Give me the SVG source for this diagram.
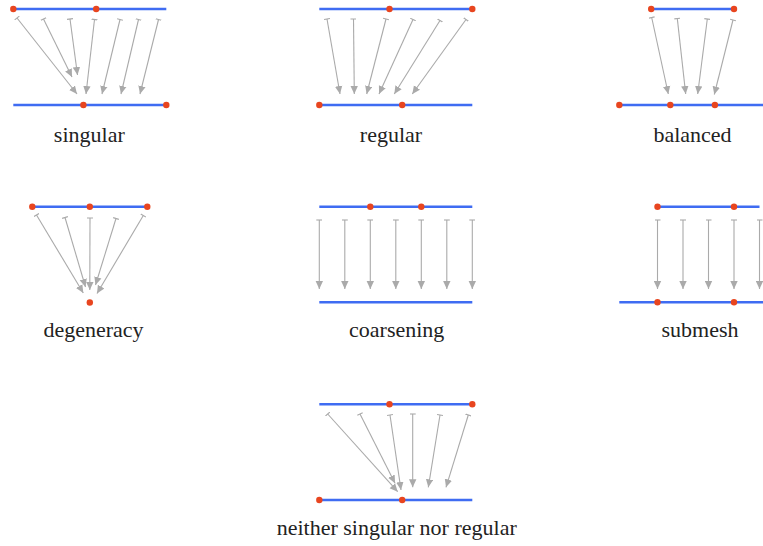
<svg xmlns="http://www.w3.org/2000/svg" width="763" height="546" viewBox="0 0 763 546">
<style>
.mesh{stroke:#3f6cf2;stroke-width:2.5;fill:none}
.dot{fill:#e8451f}
.arr{stroke:#aaaaaa;stroke-width:1.1;fill:none;marker-start:url(#bar);marker-end:url(#head)}
.lbl{font-size:22px;fill:#222;text-anchor:middle}
</style>
<defs>
<marker id="head" markerUnits="userSpaceOnUse" viewBox="0 0 8 8" refX="8" refY="4" markerWidth="8" markerHeight="8" orient="auto">
<path d="M0,0.3 L8,4 L0,7.7 z" fill="#aaaaaa"/>
</marker>
<marker id="bar" markerUnits="userSpaceOnUse" viewBox="-1 0 2 6" refX="0" refY="3" markerWidth="2" markerHeight="6" orient="auto">
<path d="M0,0 L0,6" stroke="#aaaaaa" stroke-width="1.1"/>
</marker>
</defs>

<g id="singular">
<line class="mesh" x1="13.3" y1="9" x2="166.3" y2="9"/>
<line class="mesh" x1="13.3" y1="105" x2="166.3" y2="105"/>
<circle class="dot" cx="13.3" cy="9" r="3.2"/><circle class="dot" cx="96.2" cy="9" r="3.2"/>
<circle class="dot" cx="83.4" cy="105" r="3.2"/><circle class="dot" cx="166.3" cy="105" r="3.2"/>
<text class="lbl" font-family="Liberation Serif" x="89.3" y="141.5">singular</text>
</g>
<g id="regular">
<line class="mesh" x1="319.3" y1="9" x2="472.3" y2="9"/>
<line class="mesh" x1="319.3" y1="105" x2="472.3" y2="105"/>
<circle class="dot" cx="389.5" cy="9" r="3.2"/><circle class="dot" cx="472.3" cy="9" r="3.2"/>
<circle class="dot" cx="319.3" cy="105" r="3.2"/><circle class="dot" cx="402.2" cy="105" r="3.2"/>
<text class="lbl" font-family="Liberation Serif" x="391" y="141.5">regular</text>
</g>
<g id="balanced">
<line class="mesh" x1="651.2" y1="9" x2="734" y2="9"/>
<line class="mesh" x1="619.3" y1="105" x2="763" y2="105"/>
<circle class="dot" cx="651.2" cy="9" r="3.2"/><circle class="dot" cx="734" cy="9" r="3.2"/>
<circle class="dot" cx="619.3" cy="105" r="3.2"/><circle class="dot" cx="670.3" cy="105" r="3.2"/><circle class="dot" cx="714.9" cy="105" r="3.2"/>
<text class="lbl" font-family="Liberation Serif" x="692.5" y="141.5">balanced</text>
</g>
<g id="degeneracy">
<line class="mesh" x1="32.3" y1="206.7" x2="147.3" y2="206.7"/>
<circle class="dot" cx="32.3" cy="206.7" r="3.2"/><circle class="dot" cx="89.8" cy="206.7" r="3.2"/><circle class="dot" cx="147.3" cy="206.7" r="3.2"/>
<circle class="dot" cx="89.8" cy="302.5" r="3.2"/>
<text class="lbl" font-family="Liberation Serif" x="93.5" y="336.7">degeneracy</text>
</g>
<g id="coarsening">
<line class="mesh" x1="319.3" y1="206.7" x2="472.3" y2="206.7"/>
<line class="mesh" x1="319.3" y1="302.3" x2="472.3" y2="302.3"/>
<circle class="dot" cx="370.3" cy="206.7" r="3.2"/><circle class="dot" cx="421.3" cy="206.7" r="3.2"/>
<text class="lbl" font-family="Liberation Serif" x="396.7" y="336.7">coarsening</text>
</g>
<g id="submesh">
<line class="mesh" x1="657.5" y1="206.7" x2="759.5" y2="206.7"/>
<line class="mesh" x1="619.3" y1="302.3" x2="763" y2="302.3"/>
<circle class="dot" cx="657.5" cy="206.7" r="3.2"/><circle class="dot" cx="734" cy="206.7" r="3.2"/>
<circle class="dot" cx="657.5" cy="302.3" r="3.2"/><circle class="dot" cx="734" cy="302.3" r="3.2"/>
<text class="lbl" font-family="Liberation Serif" x="700" y="336.7">submesh</text>
</g>
<g id="neither">
<line class="mesh" x1="319.3" y1="404.3" x2="472.3" y2="404.3"/>
<line class="mesh" x1="319.3" y1="500" x2="472.3" y2="500"/>
<circle class="dot" cx="389.5" cy="404.3" r="3.2"/><circle class="dot" cx="472.3" cy="404.3" r="3.2"/>
<circle class="dot" cx="319.3" cy="500" r="3.2"/><circle class="dot" cx="402.2" cy="500" r="3.2"/>
<text class="lbl" font-family="Liberation Serif" x="396.7" y="535">neither singular nor regular</text>
</g>

<g id="connectors">
<line class="arr" x1="17" y1="18" x2="77" y2="94"/>
<line class="arr" x1="43.5" y1="19" x2="72" y2="77"/>
<line class="arr" x1="70" y1="19" x2="77.5" y2="75"/>
<line class="arr" x1="94.5" y1="19.5" x2="86" y2="94"/>
<line class="arr" x1="120" y1="19.5" x2="102" y2="94"/>
<line class="arr" x1="138.5" y1="19.5" x2="121" y2="94"/>
<line class="arr" x1="158.5" y1="19.5" x2="140" y2="94"/>

<line class="arr" x1="327" y1="19" x2="340" y2="94"/>
<line class="arr" x1="353.5" y1="19" x2="354.3" y2="94"/>
<line class="arr" x1="386" y1="19" x2="366.7" y2="94"/>
<line class="arr" x1="413" y1="19.5" x2="379" y2="94"/>
<line class="arr" x1="440" y1="20.5" x2="394.3" y2="94"/>
<line class="arr" x1="466" y1="19.5" x2="412.3" y2="94"/>

<line class="arr" x1="651.7" y1="17.5" x2="668.3" y2="94"/>
<line class="arr" x1="677.3" y1="18.5" x2="685.7" y2="94"/>
<line class="arr" x1="707.3" y1="19" x2="697.7" y2="94"/>
<line class="arr" x1="733" y1="20" x2="714.3" y2="94.5"/>

<line class="arr" x1="36.5" y1="215" x2="83.3" y2="293"/>
<line class="arr" x1="65" y1="217.5" x2="85.5" y2="287"/>
<line class="arr" x1="90" y1="218" x2="89.8" y2="290"/>
<line class="arr" x1="116" y1="218.5" x2="95.5" y2="285"/>
<line class="arr" x1="143.3" y1="215.5" x2="97" y2="293.5"/>

<line class="arr" x1="319.3" y1="220" x2="319.3" y2="289"/>
<line class="arr" x1="344.8" y1="220" x2="344.8" y2="289"/>
<line class="arr" x1="370.3" y1="220" x2="370.3" y2="289"/>
<line class="arr" x1="395.8" y1="220" x2="395.8" y2="289"/>
<line class="arr" x1="421.3" y1="220" x2="421.3" y2="289"/>
<line class="arr" x1="446.8" y1="220" x2="446.8" y2="289"/>
<line class="arr" x1="472.3" y1="220" x2="472.3" y2="289"/>

<line class="arr" x1="657.5" y1="220" x2="657.5" y2="289"/>
<line class="arr" x1="683" y1="220" x2="683" y2="289"/>
<line class="arr" x1="708.5" y1="220" x2="708.5" y2="289"/>
<line class="arr" x1="734" y1="220" x2="734" y2="289"/>
<line class="arr" x1="759.5" y1="220" x2="759.5" y2="289"/>

<line class="arr" x1="327.7" y1="414" x2="397.7" y2="491.7"/>
<line class="arr" x1="360" y1="414" x2="395" y2="483.3"/>
<line class="arr" x1="390" y1="415" x2="401" y2="490"/>
<line class="arr" x1="412.7" y1="414" x2="412.7" y2="487.3"/>
<line class="arr" x1="440" y1="415" x2="428.3" y2="487.3"/>
<line class="arr" x1="468.3" y1="415" x2="446" y2="487.3"/>
</g>
</svg>
